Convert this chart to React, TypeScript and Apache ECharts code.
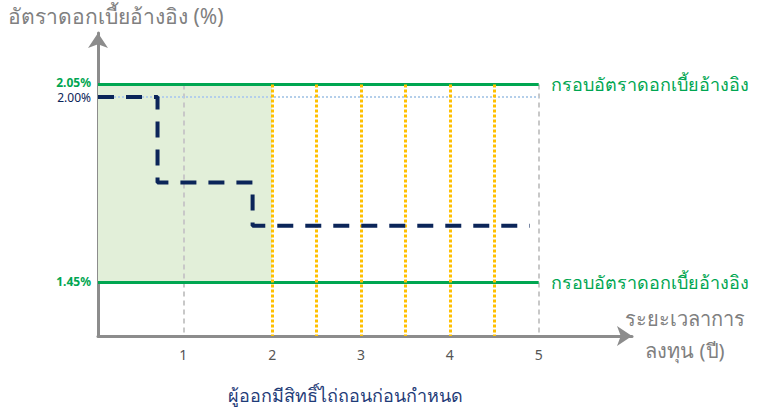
import React, { useEffect, useRef } from "react";
import * as echarts from "echarts";

// ---- data ----
const xTickValues = [1, 2, 3, 4, 5];
const callWindowStart = 2; // shaded non-callable period ends at year 2
const callDates = [2, 2.5, 3, 3.5, 4, 4.5]; // yellow dotted lines
const grayLines = [1, 5];
const bandUpper = 2.05;
const bandLower = 1.45;
const refLevel = 2.012; // drawn level labelled "2.00%"
const bandUpperText = "2.05%";
const bandLowerText = "1.45%";
const refLevelText = "2.00%";
const stepX = [0.04, 0.71, 1.78, 4.9];
const stepY = [2.012, 1.752, 1.621, 1.621];
const bandLabel = "กรอบอัตราดอกเบี้ยอ้างอิง";
const yTitle = "อัตราดอกเบี้ยอ้างอิง (%)";
const xTitle = "ระยะเวลาการ\nลงทุน (ปี)";
const bottomNote = "ผู้ออกมีสิทธิ์ไถ่ถอนก่อนกำหนด";

const GREEN = "#00a651";
const NAVY = "#0b2559";
const YELLOW = "#ffc000";
const AXIS = "#8c8c8c";
const FONT = "'Noto Sans', Roboto, sans-serif";

export default function App() {
  const ref = useRef<HTMLDivElement>(null);
  useEffect(() => {
    if (!ref.current) return;
    const chart = echarts.init(ref.current, null, { renderer: "svg" });
    const xMin = 0.04;
    const xMax = 6.05;
    const yMin = 1.286;
    const yMax = 2.2064;
    const xEnd = xTickValues[xTickValues.length - 1];

    const leftLabel = (text: string, color: string, bold: boolean, dy: number) => ({
      show: true,
      position: "start",
      distance: 7,
      offset: [0, dy],
      formatter: text,
      color,
      fontSize: 12,
      lineHeight: 12,
      fontWeight: bold ? "bold" : "normal",
      fontFamily: FONT,
    });

    const option: any = {
      animation: false,
      textStyle: { fontFamily: FONT },
      grid: { left: 98, right: 125, top: 33, bottom: 74 },
      xAxis: {
        type: "value",
        min: xMin,
        max: xMax,
        axisLine: {
          show: true,
          lineStyle: { color: AXIS, width: 3 },
          symbol: ["none", "arrow"],
          symbolSize: [15, 15],
        },
        axisTick: { show: false },
        splitLine: { show: false },
        axisLabel: {
          customValues: xTickValues,
          color: "#555",
          fontSize: 14,
          margin: 11,
          fontFamily: FONT,
        },
      },
      yAxis: {
        type: "value",
        min: yMin,
        max: yMax,
        axisLine: {
          show: true,
          lineStyle: { color: AXIS, width: 3 },
          symbol: ["none", "arrow"],
          symbolSize: [15, 15],
        },
        axisTick: { show: false },
        splitLine: { show: false },
        axisLabel: { show: false },
      },
      graphic: [
        {
          type: "text",
          left: 8,
          top: 5,
          style: { text: yTitle, fill: "#808080", fontSize: 21, fontFamily: FONT },
        },
        {
          type: "text",
          x: 685,
          y: 302,
          style: {
            text: xTitle,
            fill: "#808080",
            fontSize: 20,
            lineHeight: 32,
            align: "center",
            fontFamily: FONT,
          },
        },
        {
          type: "text",
          x: 345,
          y: 386,
          style: { text: bottomNote, fill: "#1f3c78", fontSize: 18, align: "center", fontFamily: FONT },
        },
      ],
      series: [
        {
          name: "area",
          type: "line",
          data: [],
          z: 1,
          markArea: {
            silent: true,
            itemStyle: { color: "#e2efd9" },
            data: [[{ coord: [xMin, bandUpper] }, { coord: [callWindowStart, bandLower] }]],
          },
        },
        {
          name: "gray",
          type: "line",
          data: [],
          z: 2,
          markLine: {
            silent: true,
            symbol: ["none", "none"],
            label: { show: false },
            lineStyle: { color: "#c8c8c8", width: 2, type: [5, 4] },
            data: grayLines.map((x) => [{ coord: [x, bandUpper] }, { coord: [x, yMin] }]),
          },
        },
        {
          name: "ref",
          type: "line",
          data: [],
          z: 3,
          markLine: {
            silent: true,
            symbol: ["none", "none"],
            label: leftLabel(refLevelText, NAVY, false, 1),
            lineStyle: { color: "#b4cfea", width: 2, type: [2, 2] },
            data: [[{ coord: [xMin, refLevel] }, { coord: [xEnd, refLevel] }]],
          },
        },
        {
          name: "bandLeft",
          type: "line",
          data: [],
          z: 3,
          markLine: {
            silent: true,
            symbol: ["none", "none"],
            lineStyle: { color: "rgba(0,0,0,0)", width: 1, type: "solid" },
            data: [
              [
                { coord: [xMin, bandUpper], label: leftLabel(bandUpperText, GREEN, true, -2) },
                { coord: [xEnd, bandUpper] },
              ],
              [
                { coord: [xMin, bandLower], label: leftLabel(bandLowerText, GREEN, true, -1) },
                { coord: [xEnd, bandLower] },
              ],
            ],
          },
        },
        {
          name: "band",
          type: "line",
          data: [],
          z: 4,
          markLine: {
            silent: true,
            symbol: ["none", "none"],
            lineStyle: { color: GREEN, width: 3, type: "solid" },
            label: {
              show: true,
              position: "end",
              distance: 12,
              formatter: bandLabel,
              color: GREEN,
              fontSize: 18,
              fontFamily: FONT,
            },
            data: [bandUpper, bandLower].map((y) => [{ coord: [xMin, y] }, { coord: [xEnd, y] }]),
          },
        },
        {
          name: "call",
          type: "line",
          data: [],
          z: 5,
          markLine: {
            silent: true,
            symbol: ["none", "none"],
            label: { show: false },
            lineStyle: { color: YELLOW, width: 3, type: [3, 2] },
            data: callDates.map((x) => [{ coord: [x, bandUpper] }, { coord: [x, yMin] }]),
          },
        },
        {
          name: "rate",
          type: "line",
          step: "end",
          z: 6,
          symbol: "none",
          lineStyle: { color: NAVY, width: 4, type: [16, 12] },
          data: stepX.map((x, i) => [x, stepY[i]]),
        },
      ],
    };
    chart.setOption(option);
    return () => chart.dispose();
  }, []);
  return (
    <div
      ref={ref}
      style={{ position: "absolute", left: 0, top: 0, width: 757, height: 410 }}
    />
  );
}
